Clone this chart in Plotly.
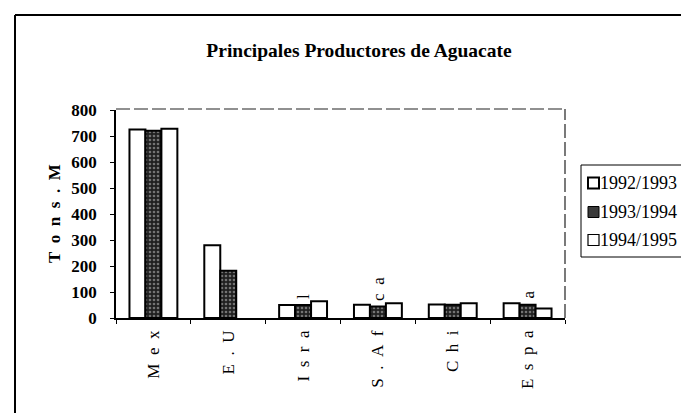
import plotly.graph_objects as go

# ---- data ----
labels = ["M e x", "E . U", "I s r a", "S . A f", "C h i", "E s p a"]
label_tails = ["", "", "l", "c a", "", "a"]
series_names = ["1992/1993", "1993/1994", "1994/1995"]
s1 = [725, 280, 50, 51, 52, 57]
s2 = [720, 182, 50, 44, 51, 51]
s3 = [728, None, 64, 57, 57, 37]
y_ticks = [0, 100, 200, 300, 400, 500, 600, 700, 800]
y_title = "T o n s . M"

W, H = 689, 413
L, R, T, B = 108, 557, 102, 310
FONT = "Liberation Serif"
SP = "\u2002"

def xp(px):
    return (px - L) / (R - L)

def yp(py):
    return (B - py) / (B - T)

cats = [s.replace(" ", SP) for s in labels]

fig = go.Figure()
fig.add_trace(go.Bar(x=cats, y=s1, name=series_names[0],
                     marker=dict(color="white", line=dict(color="black", width=2))))
fig.add_trace(go.Bar(x=cats, y=s2, name=series_names[1],
                     marker=dict(color="#202020", line=dict(color="black", width=2),
                                 pattern=dict(shape=".", fgcolor="#c8c8c8", bgcolor="#202020",
                                              size=4, solidity=0.35))))
fig.add_trace(go.Bar(x=cats, y=s3, name=series_names[2],
                     marker=dict(color="white", line=dict(color="black", width=2))))

shapes = []
# plot frame (dashed top & right)
shapes.append(dict(type="line", xref="paper", yref="paper", x0=0, x1=1, y0=yp(101), y1=yp(101),
                   line=dict(color="#222", width=1.2, dash="14px,4px")))
shapes.append(dict(type="line", xref="paper", yref="paper", x0=1, x1=1, y0=0, y1=yp(101),
                   line=dict(color="#222", width=1.2, dash="14px,4px")))
# outer chart border
shapes.append(dict(type="line", xref="paper", yref="paper", x0=xp(7), x1=xp(700), y0=yp(7), y1=yp(7),
                   line=dict(color="black", width=2)))
shapes.append(dict(type="line", xref="paper", yref="paper", x0=xp(7), x1=xp(7), y0=yp(7), y1=yp(420),
                   line=dict(color="black", width=2)))
shapes.append(dict(type="line", xref="paper", yref="paper", x0=xp(575), x1=xp(700), y0=yp(411.5), y1=yp(411.5),
                   line=dict(color="black", width=2)))
# legend box
shapes.append(dict(type="rect", xref="paper", yref="paper", x0=xp(573), x1=xp(683), y0=yp(157), y1=yp(249),
                   line=dict(color="black", width=1), fillcolor="white"))
row_y = [175, 204, 232]
sym_fill = ["white", "#3a3a3a", "white"]
sym_w = [2, 1, 1.2]
annotations = []
for i, name in enumerate(series_names):
    cy = row_y[i]
    shapes.append(dict(type="rect", xref="paper", yref="paper", x0=xp(580), x1=xp(591),
                       y0=yp(cy - 5.5), y1=yp(cy + 5.5),
                       line=dict(color="black", width=sym_w[i]), fillcolor=sym_fill[i]))
    annotations.append(dict(xref="paper", yref="paper", x=xp(590), y=yp(cy), text=name,
                            showarrow=False, xanchor="left", yanchor="middle",
                            font=dict(family=FONT, size=18, color="black")))

# y-axis title
annotations.append(dict(xref="paper", yref="paper", x=xp(46), y=yp(206), text=y_title.replace(" ", SP),
                        textangle=-90, showarrow=False, xanchor="center", yanchor="middle",
                        font=dict(family=FONT, size=17, color="black", weight="bold")))
# label fragments showing above the bars
tail_pos = {2: 289, 3: 281, 5: 287}
for i, tail in enumerate(label_tails):
    if tail:
        annotations.append(dict(x=cats[i], y=0, xref="x", yref="paper", yshift=(B - tail_pos[i]),
                                text=tail.replace(" ", SP), textangle=-90, showarrow=False,
                                xanchor="center", yanchor="middle",
                                font=dict(family=FONT, size=17, color="black")))

fig.update_layout(
    width=W, height=H,
    margin=dict(l=L, r=W - R, t=T, b=H - B, pad=0),
    paper_bgcolor="white", plot_bgcolor="white",
    showlegend=False,
    barmode="group", bargap=0.36, bargroupgap=0,
    title=dict(text="<b>Principales Productores de Aguacate</b>", x=351 / W, xref="container",
               xanchor="center", y=1 - 42 / H, yref="container", yanchor="middle",
               font=dict(family=FONT, size=19.5, color="black")),
    xaxis=dict(showline=True, linecolor="black", linewidth=1.5, ticks="outside", ticklen=4,
               tickcolor="black", tickson="boundaries", tickangle=-90, showgrid=False,
               tickfont=dict(family=FONT, size=17, color="black"), ticklabelstandoff=4),
    yaxis=dict(range=[0, 800], tickvals=y_ticks, showline=True, linecolor="black", linewidth=1.5,
               ticks="outside", ticklen=4, tickcolor="black", showgrid=False, zeroline=False,
               tickfont=dict(family=FONT, size=17, color="black", weight="bold"),
               ticklabelstandoff=10),
    xaxis2=dict(overlaying="x", range=[-0.5, 5.5], tickvals=[-0.5, 0.5, 1.5, 2.5, 3.5, 4.5, 5.5],
                ticks="inside", ticklen=4, tickcolor="black", showticklabels=False,
                showgrid=False, zeroline=False, showline=False),
    yaxis2=dict(overlaying="y", range=[0, 800], tickvals=y_ticks, ticks="inside", ticklen=4,
                tickcolor="black", showticklabels=False, showgrid=False, zeroline=False,
                showline=False, side="left"),
    shapes=shapes,
    annotations=annotations,
)

fig.write_html("out.html")
